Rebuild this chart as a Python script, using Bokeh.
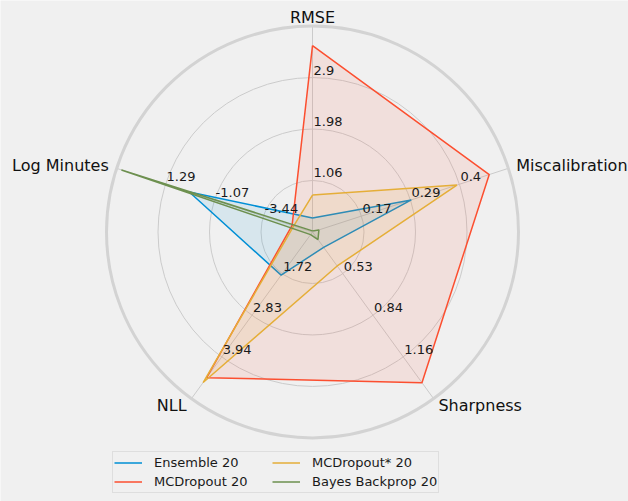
import numpy as np
from bokeh.plotting import figure
from bokeh.models import Legend, LegendItem, Range1d
from bokeh.core.properties import value
from bokeh.embed import file_html
from bokeh.resources import INLINE

# ---- data ----
metrics = ["RMSE", "Miscalibration", "Sharpness", "NLL", "Log Minutes"]
axis_min = [0.14, 0.055, 0.215, 0.61, -5.805]
axis_max = [3.82, 0.515, 1.475, 5.05, 3.655]
tick_labels = [
    ["1.06", "1.98", "2.9"],
    ["0.17", "0.29", "0.4"],
    ["0.53", "0.84", "1.16"],
    ["1.72", "2.83", "3.94"],
    ["-3.44", "-1.07", "1.29"],
]
series_names = ["Ensemble 20", "MCDropout 20", "MCDropout* 20", "Bayes Backprop 20"]
ensemble = [0.39, 0.287, 0.331, 1.76, 0.145]
mcdropout = [3.47, 0.470, 1.354, 4.49, -4.82]
mcdropout_star = [0.80, 0.394, 0.472, 4.62, -4.90]
bayes_backprop = [0.16, 0.070, 0.272, 0.68, 3.42]
series_values = [ensemble, mcdropout, mcdropout_star, bayes_backprop]
colors = ["#008fd5", "#fc4f30", "#e5ae38", "#6d904f"]

FONT_NAME = "DejaVu Sans"
FONT = value(FONT_NAME)
BG = "#f0f0f0"
GRID = "#cbcbcb"

n = len(metrics)
theta = np.pi / 2 - np.arange(n) * 2 * np.pi / n
amin = np.array(axis_min)
amax = np.array(axis_max)

p = figure(width=628, height=501, output_backend="svg", toolbar_location=None,
           x_range=Range1d(-1.5146, 1.5340), y_range=Range1d(-1.3083, 1.1238),
           min_border=0, background_fill_color=BG, border_fill_color=BG)
p.axis.visible = False
p.grid.visible = False
p.outline_line_color = None

# grid rings
ring_levels = [0.25, 0.5, 0.75]
p.circle(x=[0] * 3, y=[0] * 3, radius=ring_levels, fill_color=None,
         line_color=GRID, line_width=1)
# radial spokes
p.segment(x0=[0] * n, y0=[0] * n, x1=np.cos(theta), y1=np.sin(theta),
          line_color=GRID, line_width=1)
# outer spine
p.circle(x=[0], y=[0], radius=[1.0], fill_color=None, line_color="#d3d3d3",
         line_width=3)

# series
line_renderers = []
for name, vals, c in zip(series_names, series_values, colors):
    r = (np.array(vals) - amin) / (amax - amin)
    xs = r * np.cos(theta)
    ys = r * np.sin(theta)
    p.patch(x=list(xs), y=list(ys), fill_color=c, fill_alpha=0.1, line_color=None)
    lr = p.line(x=list(xs) + [xs[0]], y=list(ys) + [ys[0]], line_color=c,
                line_width=1.5)
    line_renderers.append(lr)

# tick labels (anchored left-bottom at ring points)
tx, ty, tt = [], [], []
for k in range(n):
    for lvl, lab in zip(ring_levels, tick_labels[k]):
        tx.append(lvl * np.cos(theta[k]))
        ty.append(lvl * np.sin(theta[k]))
        tt.append(lab)
p.text(x=tx, y=ty, text=tt, text_align="left", text_baseline="bottom",
       y_offset=-3, x_offset=1,
       text_font=FONT, text_font_size="13px", text_color="#1a1a1a")

# axis labels
aligns = ["center", "left", "left", "right", "right"]
label_r = 1.04
for k in range(n):
    p.text(x=[label_r * np.cos(theta[k])], y=[label_r * np.sin(theta[k])],
           text=[metrics[k]], text_align=aligns[k], text_baseline="middle",
           text_font=FONT, text_font_size="16px", text_color="#111111")

legend = Legend(
    items=[LegendItem(label=nm, renderers=[lr]) for nm, lr in zip(series_names, line_renderers)],
    nrows=2, location=(112, 8), orientation="vertical",
    label_text_font=FONT_NAME, label_text_font_size="13px",
    label_text_color="#1a1a1a",
    glyph_width=28, glyph_height=19, label_height=19, label_width=118,
    label_standoff=12, padding=1, spacing=0, margin=0,
    border_line_color="#cccccc", border_line_width=1,
    background_fill_color=BG, background_fill_alpha=1.0,
)
p.add_layout(legend)

open("out.html", "w").write(file_html(p, INLINE))
